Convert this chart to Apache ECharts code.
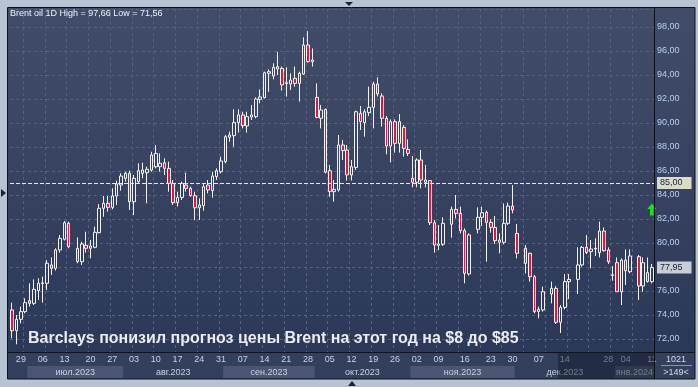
<!DOCTYPE html>
<html><head><meta charset="utf-8">
<script src="https://cdn.jsdelivr.net/npm/echarts@6/dist/echarts.min.js"></script>
<style>html,body{margin:0;padding:0;background:#b7c3d3;}#c{width:698px;height:387px;}</style>
</head><body><div id="c"></div>
<script>
// ---- data ----
const slotCount = 148;
const opens = [74.42,72.69,73.64,74.28,75.19,74.97,76.03,76.62,76.64,78.17,77.89,79.42,80.31,81.64,null,79.56,78.44,79.81,79.56,79.64,
80.86,82.89,83.31,82.97,83.92,84.83,85.39,85.81,83.44,85.11,85.81,85.86,86.08,86.36,86.36,86.69,86.22,84.97,83.36,83.80,
84.83,84.55,83.94,82.94,83.11,84.83,84.36,85.53,85.94,86.78,88.81,88.94,90.03,90.67,89.75,90.50,90.53,91.97,92.11,94.14,
93.92,94.50,94.55,93.28,93.25,93.72,93.30,94.08,96.50,95.11,92.14,90.39,91.14,86.03,84.28,84.42,88.17,87.75,85.67,86.30,
90.80,90.03,90.86,91.30,93.25,92.25,90.39,88.08,90.11,88.30,89.64,87.80,85.39,85.06,86.92,85.06,85.20,81.69,79.80,79.89,
null,81.56,82.80,82.47,81.03,77.42,null,81.14,82.14,82.55,81.72,81.30,80.06,80.06,81.64,83.08,80.80,null,79.56,79.14,
77.19,74.28,74.42,null,75.75,76.22,73.39,74.64,76.78,null,76.97,78.17,79.64,79.28,79.50,79.20,81.00,79.42,77.30,78.36,
75.94,78.58,77.61,null,78.86,76.42,77.53,76.78];
const closes = [72.69,73.64,74.28,75.03,74.97,76.14,76.64,76.68,78.31,77.89,79.42,80.39,81.69,79.69,null,78.44,79.92,79.56,79.75,80.89,
82.89,83.31,82.97,83.92,84.92,85.58,85.81,83.44,85.39,86.03,86.08,86.14,87.33,87.47,86.64,86.22,84.97,83.36,83.80,84.97,
84.55,83.94,82.94,83.17,84.69,84.42,85.58,86.03,86.83,88.86,89.00,90.05,90.67,89.78,90.53,90.67,92.00,92.17,94.19,94.28,
94.64,94.70,93.17,93.36,93.58,93.30,94.14,96.50,95.11,95.25,90.47,91.08,85.90,84.28,84.47,88.17,87.70,85.67,86.36,90.94,
90.11,90.94,91.30,93.25,92.42,90.39,88.08,90.11,88.30,90.11,87.89,87.47,85.06,86.92,85.25,85.25,81.69,79.83,79.92,81.64,
null,82.80,82.47,81.03,77.47,80.67,null,82.14,82.53,81.72,81.30,80.19,80.25,81.64,83.08,82.75,79.14,null,78.30,77.19,
74.28,74.47,75.94,null,76.22,73.39,74.64,76.78,76.97,null,78.17,79.64,79.20,79.50,79.55,81.00,79.36,78.44,77.35,75.94,
78.58,77.69,78.92,null,76.42,78.36,76.78,77.95];
const lows = [72.06,71.56,73.30,74.14,74.70,74.83,75.25,75.03,76.08,77.33,77.70,79.20,80.20,79.56,null,78.31,78.17,79.20,78.72,79.56,
80.81,82.19,82.61,82.81,83.17,84.36,85.11,82.75,82.33,84.97,85.39,83.31,85.94,86.22,85.94,85.67,84.28,83.17,83.03,83.58,
84.28,83.86,81.90,81.92,82.69,84.14,83.78,85.25,85.80,86.64,88.44,88.03,89.20,89.55,89.20,90.25,90.39,91.64,92.05,92.60,
93.64,94.00,92.70,92.20,92.75,93.03,91.78,94.00,95.03,94.70,90.39,89.55,85.80,83.86,83.44,84.28,86.92,85.20,85.20,86.08,
89.42,88.86,90.58,89.55,92.20,89.70,87.39,86.72,87.53,87.53,87.20,87.25,84.64,84.64,84.55,84.64,81.50,79.20,79.40,79.75,
null,80.44,82.05,80.80,76.64,77.28,null,80.80,81.42,78.44,80.86,79.92,79.14,79.89,81.50,82.47,78.72,null,77.47,76.78,
74.14,73.72,74.28,null,74.97,73.25,72.50,74.47,75.33,null,75.75,78.03,79.08,77.89,78.92,78.80,79.28,78.25,76.86,75.94,
74.83,76.50,77.47,null,75.25,75.94,76.70,76.64];
const highs = [75.03,74.00,74.70,75.40,76.64,76.97,77.06,77.20,78.58,78.80,79.56,80.67,81.83,81.78,null,80.47,80.11,80.94,80.25,81.36,
83.25,83.92,83.92,84.56,85.19,85.81,85.94,86.03,85.67,86.64,86.69,86.36,87.60,88.17,87.47,87.06,86.78,85.25,84.28,85.11,
85.86,84.70,84.28,83.72,84.97,85.25,85.94,86.22,87.20,89.00,89.28,91.14,91.14,90.94,90.94,91.50,92.14,92.80,94.28,94.47,
94.97,95.94,94.70,94.64,94.14,94.70,94.28,97.14,97.66,96.22,93.30,91.50,91.20,86.50,85.25,89.00,88.58,88.17,86.92,91.03,
91.42,91.14,93.03,93.44,93.80,92.47,90.58,90.30,90.30,90.75,89.83,88.64,87.25,87.06,87.75,86.50,85.25,81.92,81.50,82.14,
null,83.03,84.00,83.03,81.22,80.80,null,82.97,83.03,82.70,81.97,82.25,80.80,83.30,83.36,84.83,81.58,null,79.83,79.20,
77.33,74.70,76.36,null,76.78,76.42,74.83,77.42,77.42,null,79.64,79.75,80.67,80.25,80.39,81.78,81.30,79.64,78.08,78.80,
78.72,79.47,79.47,null,79.00,78.80,78.80,78.25];
const dayTicks = [[2,'29'],[7,'06'],[12,'13'],[18,'20'],[23,'27'],[28,'03'],[33,'10'],[38,'17'],[43,'24'],[48,'31'],
[53,'07'],[58,'14'],[63,'21'],[68,'28'],[73,'05'],[78,'12'],[83,'19'],[88,'26'],[93,'02'],[98,'09'],[104,'16'],
[110,'23'],[115,'30'],[121,'07'],[127,'14'],[137,'28'],[141,'04'],[147,'11']];
const monthNames = ['июл.2023','авг.2023','сен.2023','окт.2023','ноя.2023','дек.2023','янв.2024'];
const monthStarts = [4,26,49,70,92,116,139];
const monthEnds = [25,48,69,91,115,138,147];
const monthShaded = [1,0,1,0,1,0,1];
const targetLevel = 85;
const lastPrice = 77.95;
const arrowSignal = [147, 82.79];
const titleText = 'Brent oil 1D High = 97,66 Low = 71,56';
const noteText = 'Barclays понизил прогноз цены Brent на этот год на $8 до $85';

// ---- build ----
const FONT = "'Liberation Sans', Arial, sans-serif";
const tickMap = {};
dayTicks.forEach(([i, t]) => { tickMap[i] = t; });
const categories = Array.from({length: slotCount}, (_, i) => String(i));
const candles = opens.map((o, i) => o == null ? '-' : [o, closes[i], lows[i], highs[i]]);
const fmt = v => v.toFixed(2).replace('.', ',');

const chart = echarts.init(document.getElementById('c'), null, {renderer: 'canvas'});
chart.setOption({
  animation: false,
  backgroundColor: '#b7c3d3',
  title: {text: titleText, left: 10, top: 9, padding: 0,
    textStyle: {fontSize: 9, fontWeight: 'normal', color: '#eef2f8', fontFamily: FONT}},
  grid: {left: 10, right: 44, top: 9, bottom: 35, containLabel: false},
  xAxis: {
    type: 'category', data: categories, boundaryGap: true,
    axisLine: {show: false}, axisTick: {show: false},
    axisLabel: {interval: 0, margin: 3, fontSize: 9, color: '#c7d1e1', fontFamily: FONT,
      formatter: (v, i) => tickMap[i] || ''},
    splitLine: {show: true, interval: (i) => i % 5 === 3,
      lineStyle: {color: '#56627d', type: [3, 3], width: 1}}
  },
  yAxis: {
    type: 'value', position: 'right', scale: true,
    min: 70.917, max: 99.5, splitNumber: 14, minInterval: 2, maxInterval: 2,
    axisLine: {show: false}, axisTick: {show: false},
    axisLabel: {margin: 3, fontSize: 9, color: '#b7cff0', fontFamily: FONT,
      showMinLabel: false, showMaxLabel: false, formatter: fmt},
    splitLine: {show: true, lineStyle: {color: '#56627d', type: [3, 3], width: 1}}
  },
  series: [
    {
      type: 'candlestick', data: candles, barWidth: 3, z: 3,
      itemStyle: {color: 'rgba(0,0,0,0)', color0: '#e3173e',
        borderColor: '#f2f2f2', borderColor0: '#f2f2f2', borderColorDoji: '#f2f2f2', borderWidth: 1},
      markLine: {
        silent: true, symbol: ['none', 'none'], animation: false,
        data: [
          {yAxis: targetLevel,
           lineStyle: {color: '#e6e6e6', type: [4, 2], width: 1},
           label: {show: true, position: 'end', distance: 3, formatter: fmt(targetLevel),
             fontSize: 9, color: '#14213a', fontFamily: FONT, backgroundColor: '#dcdcc6',
             padding: [2, 9, 1, 3]}},
          {yAxis: lastPrice,
           lineStyle: {color: 'rgba(0,0,0,0)', width: 0.01},
           label: {show: true, position: 'end', distance: 3, formatter: fmt(lastPrice),
             fontSize: 9, color: '#14213a', fontFamily: FONT, backgroundColor: '#c9cdd6',
             padding: [2, 9, 1, 3]}}
        ]
      },
      markPoint: {
        silent: true, animation: false,
        data: [{coord: arrowSignal,
          symbol: 'path://M5,0 L10,5.5 L7,5.5 L7,12 L3,12 L3,5.5 L0,5.5 Z',
          symbolSize: [9, 12], itemStyle: {color: '#1ee11e'}, label: {show: false}}]
      }
    },
    {
      type: 'custom', silent: true, clip: false, z: 4,
      data: monthNames.map((n, k) => ({name: n, value: [monthStarts[k], monthEnds[k], monthShaded[k]]})),
      renderItem: (params, api) => {
        const bw = api.size([1, 0])[0];
        const a = api.coord([api.value(0), 80]);
        const b = api.coord([api.value(1), 80]);
        const cs = params.coordSys;
        const bottom = cs.y + cs.height;
        const x0 = a[0] - bw / 2, x1 = b[0] + bw / 2;
        const name = monthNames[params.dataIndex];
        const children = [];
        if (api.value(2)) {
          children.push({type: 'rect', shape: {x: x0, y: bottom + 14, width: x1 - x0, height: 12},
            style: {fill: '#4a5674'}});
        }
        children.push({type: 'text', style: {text: name, x: (x0 + x1) / 2, y: bottom + 20.5,
          fill: '#c7d1e1', font: '9px ' + FONT, align: 'center', verticalAlign: 'middle',
          textAlign: 'center', textVerticalAlign: 'middle'}});
        return {type: 'group', children};
      }
    }
  ],
  graphic: [
    {type: 'rect', z: -10, shape: {x: 8, y: 8, width: 687, height: 344},
      style: {fill: new echarts.graphic.LinearGradient(0, 0, 0, 1, [
        {offset: 0, color: '#414d68'}, {offset: 1, color: '#2c3858'}])}},
    {type: 'rect', z: -10, shape: {x: 8, y: 352, width: 687, height: 27}, style: {fill: '#33405d'}},
    {type: 'text', z: 70, style: {text: noteText, x: 28, y: 338.5, fill: '#eaeaf0',
      font: 'bold 16px ' + FONT, textVerticalAlign: 'middle', verticalAlign: 'middle'}},
    {type: 'rect', z: 60, shape: {x: 558, y: 352.5, width: 96, height: 26},
      style: {fill: 'rgba(14,20,36,0.45)'}},
    {type: 'line', z: 80, shape: {x1: 8, y1: 352.5, x2: 695, y2: 352.5}, style: {stroke: '#10141e', lineWidth: 1}},
    {type: 'line', z: 80, shape: {x1: 654.5, y1: 8, x2: 654.5, y2: 379}, style: {stroke: '#0c1018', lineWidth: 1}},
    {type: 'line', z: 80, shape: {x1: 661, y1: 365.5, x2: 692, y2: 365.5}, style: {stroke: '#8794aa', lineWidth: 1}},
    {type: 'text', z: 80, style: {text: '1021', x: 676, y: 359.5, fill: '#d3dae6', font: '9px ' + FONT,
      textAlign: 'center', textVerticalAlign: 'middle', align: 'center', verticalAlign: 'middle'}},
    {type: 'text', z: 80, style: {text: '>149<', x: 676, y: 372.5, fill: '#d3dae6', font: '9px ' + FONT,
      textAlign: 'center', textVerticalAlign: 'middle', align: 'center', verticalAlign: 'middle'}},
    {type: 'rect', z: 90, shape: {x: 7.5, y: 7.5, width: 687.5, height: 371.5},
      style: {fill: 'none', stroke: '#0d111b', lineWidth: 1}},
    {type: 'polygon', z: 90, shape: {points: [[345, 2], [353, 2], [349, 6]]}, style: {fill: '#1b2333'}},
    {type: 'polygon', z: 90, shape: {points: [[1, 189], [1, 197], [6, 193]]}, style: {fill: '#1b2333'}},
    {type: 'polygon', z: 90, shape: {points: [[348, 386], [356, 386], [352, 381]]}, style: {fill: '#1b2333'}}
  ]
});
</script></body></html>
